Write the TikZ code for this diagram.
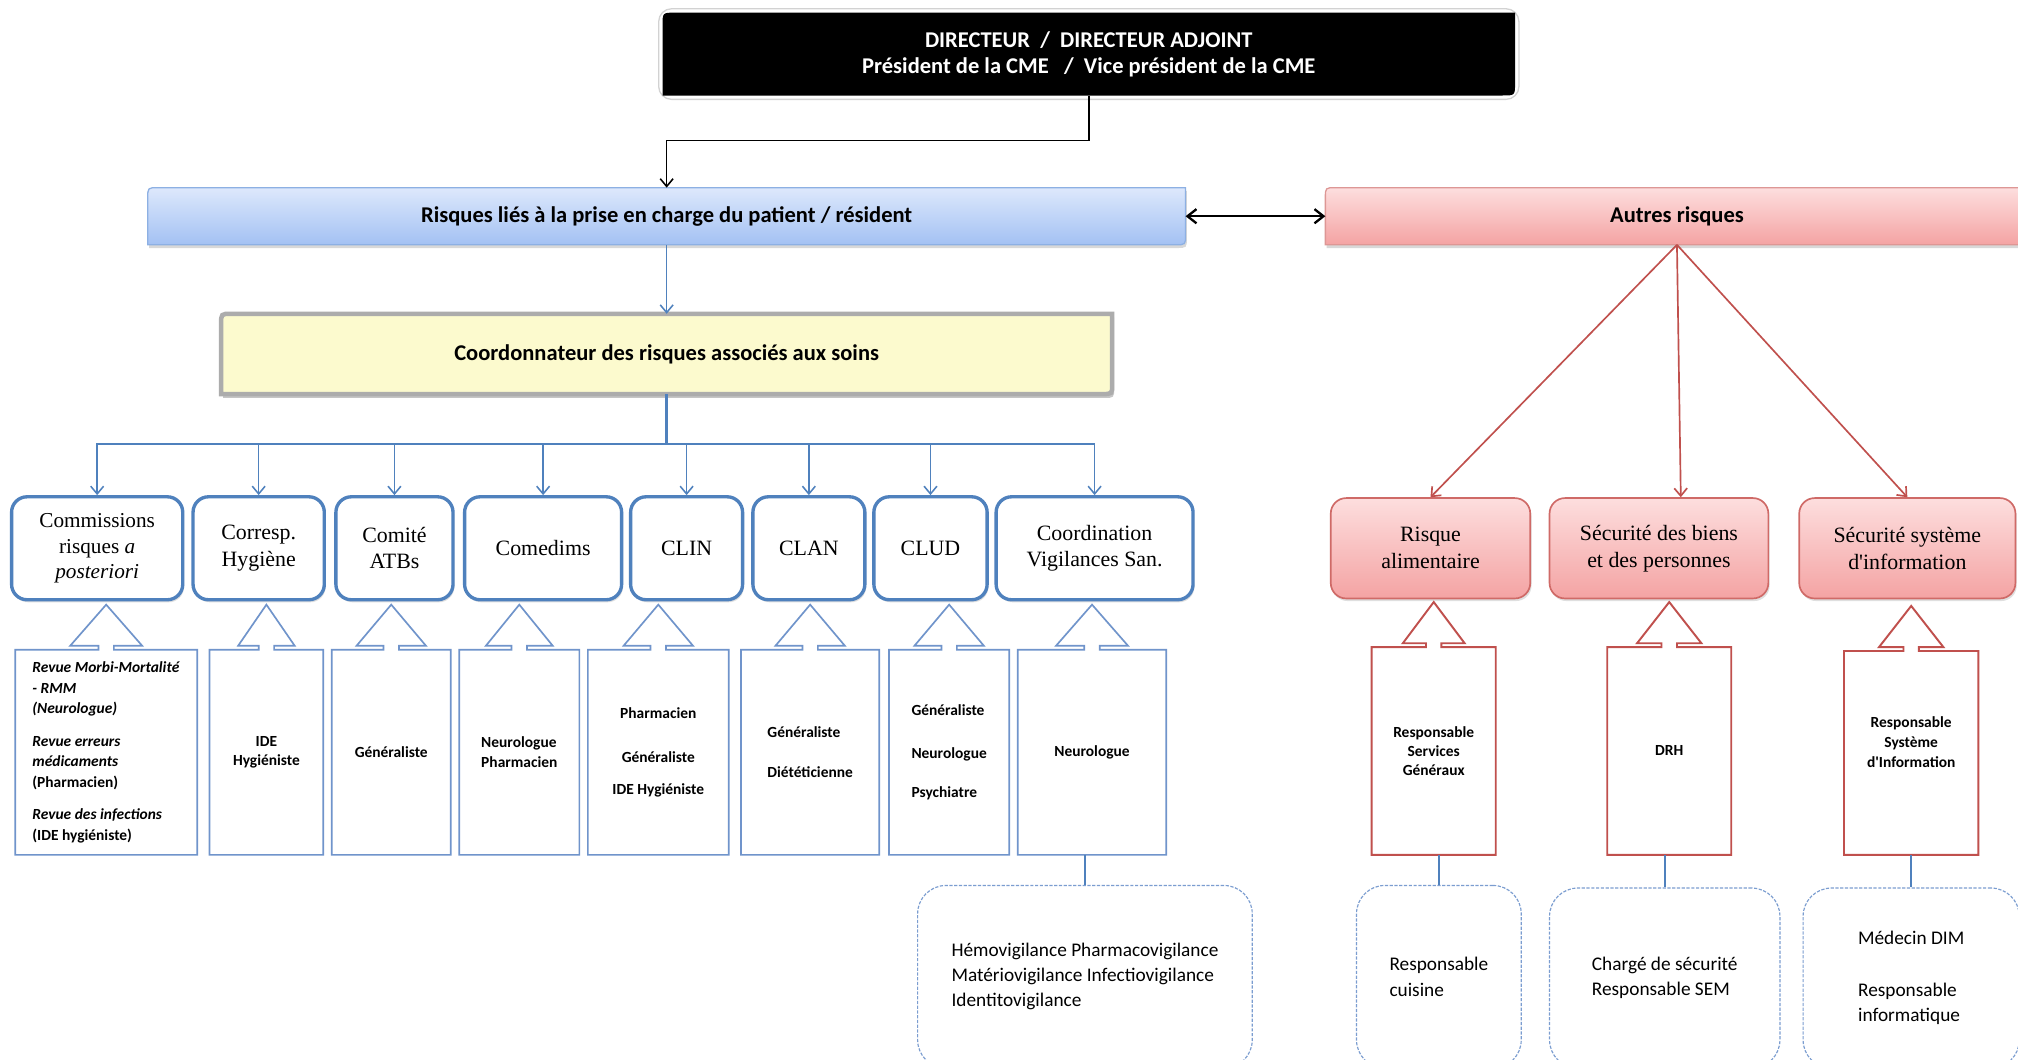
\documentclass[tikz,border=0pt]{standalone}
\usepackage{fontspec}
\setmainfont{Liberation Serif}
\newfontfamily\calfont{Carlito}
\usetikzlibrary{arrows.meta,calc,shadows,backgrounds}
\definecolor{obl}{HTML}{4F81BD}
\definecolor{thinbl}{HTML}{7094CB}
\definecolor{dashbl}{HTML}{7B9DD0}
\definecolor{ored}{HTML}{C0504D}
\definecolor{redbd}{HTML}{CF6A67}
\definecolor{bltop}{HTML}{DDE8FC}
\definecolor{blbot}{HTML}{A3C1F3}
\definecolor{bltopbd}{HTML}{8DB0E3}
\definecolor{rdtop}{HTML}{FDDEDE}
\definecolor{rdbot}{HTML}{F4A3A3}
\definecolor{ylw}{HTML}{FCFACE}
\newcommand\diagrect[3]{%
  \path[#3] (#1.south west) -- ($(#1.north west)+(0,#2)$) .. controls (#1.north west) .. ($(#1.north west)+(#2,0)$)
    -- (#1.north east) -- ($(#1.south east)+(0,-#2)$) .. controls (#1.south east) .. ($(#1.south east)+(-#2,0)$) -- cycle;}
\newcommand\callout[3]{%
  \draw[#2] (#1.north west) -- ($(#1.north)+(-6,0)$) -- ++(0,-3) -- ++({-#3+6},0) -- ++(#3,-32) -- ++(#3,32)
    -- ++({-#3+6},0) -- ++(0,3) -- (#1.north east) -- (#1.south east) -- (#1.south west) -- cycle;}
\begin{document}
\begin{tikzpicture}[x=1pt,y=-1pt,
  toptext/.style={inner sep=0, align=center, font=\calfont\bfseries\fontsize{17.5}{20}\selectfont},
  cmt/.style={draw=obl, line width=2.6pt, rounded corners=12pt, fill=white, inner sep=0, align=center,
    minimum height=80, font=\fontsize{17}{20.5}\selectfont,
    drop shadow={opacity=0.25, shadow xshift=1pt, shadow yshift=-2pt}},
  rbox/.style={draw=redbd, line width=1.3pt, rounded corners=12pt, top color=rdtop, bottom color=rdbot,
    inner sep=0, align=center, minimum height=78, font=\fontsize{17}{21}\selectfont,
    drop shadow={opacity=0.25, shadow xshift=1pt, shadow yshift=-2pt}},
  note/.style={inner sep=0, align=center, minimum height=159, font=\calfont\bfseries\fontsize{12}{15}\selectfont},
  rnote/.style={note, minimum height=161},
  dbox/.style={draw=dashbl, line width=0.9pt, dash pattern=on 2.5pt off 1.2pt, rounded corners=22pt,
    inner sep=0, align=left, font=\calfont\fontsize{15}{19.5}\selectfont},
  barb/.style={-{Straight Barb[length=6pt,width=10pt]}},
  blarrow/.style={barb, draw=obl, line width=1.2pt},
  redarrow/.style={barb, draw=ored, line width=1.3pt},
  blueout/.style={draw=thinbl, line width=1.3pt},
  redout/.style={draw=ored, line width=1.5pt},
  link/.style={draw=obl, line width=1.2pt}]
\useasboundingbox (0,0) rectangle (1568,823);

% top boxes
\node[toptext, text=white, minimum width=662, minimum height=64] (boss) at (846,42)
  {DIRECTEUR\ \ /\ \ DIRECTEUR ADJOINT\\Président de la CME\ \ \ /\ \ Vice président de la CME};
\node[toptext, minimum width=806, minimum height=44] (blue) at (518,168)
  {Risques liés à la prise en charge du patient / résident};
\node[toptext, minimum width=546, minimum height=44] (ar) at (1303,168) {Autres risques};
\node[toptext, minimum width=692, minimum height=62] (yel) at (518,275)
  {Coordonnateur des risques associés aux soins};

\begin{scope}[on background layer]
  \fill[white] (0,0) rectangle (1568,823);
  \draw[gray!35, line width=1pt, rounded corners=10pt] ($(boss.north west)+(-3,-3)$) rectangle ($(boss.south east)+(3,3)$);
  \diagrect{boss}{10}{fill=black}
  \diagrect{blue}{8}{top color=bltop, bottom color=blbot, draw=bltopbd, line width=1pt,
     drop shadow={opacity=0.3, shadow xshift=1pt, shadow yshift=-2.5pt}}
  \diagrect{ar}{8}{top color=rdtop, bottom color=rdbot, draw=redbd!70, line width=1pt,
     drop shadow={opacity=0.3, shadow xshift=1pt, shadow yshift=-2.5pt}}
  \diagrect{yel}{8}{fill=ylw, draw=gray!65, line width=3.5pt,
     drop shadow={opacity=0.45, shadow xshift=1.5pt, shadow yshift=-3pt}}
\end{scope}

% top connectors
\draw[barb, line width=1.2pt] (boss.south) -- ++(0,35) -| (blue.north);
\draw[{Straight Barb[length=7pt,width=11pt]}-{Straight Barb[length=7pt,width=11pt]}, line width=1.8pt] (blue.east) -- (ar.west);
\draw[blarrow] (blue.south) -- (yel.north);

% committees
\node[cmt, minimum width=133, font=\fontsize{16.5}{20}\selectfont] (c1) at (75.5,426) {Commissions\\risques \textit{a}\\\textit{posteriori}};
\node[cmt, minimum width=102] (c2) at (201,426) {Corresp.\\Hygiène};
\node[cmt, minimum width=91] (c3) at (306.5,426) {Comité\\ATBs};
\node[cmt, minimum width=122] (c4) at (422,426) {Comedims};
\node[cmt, minimum width=87] (c5) at (533.5,426) {CLIN};
\node[cmt, minimum width=87] (c6) at (628.5,426) {CLAN};
\node[cmt, minimum width=88] (c7) at (723,426) {CLUD};
\node[cmt, minimum width=153] (c8) at (850.5,426) {Coordination\\Vigilances San.};

\coordinate (bus) at (518,345);
\draw[draw=obl, line width=2.8pt] (yel.south) -- (bus);
\foreach \c in {c1,c2,c3,c4,c5,c6,c7,c8} \draw[blarrow] (bus) -| (\c.north);

% member callouts
\node[note, minimum width=141, align=left, font=\calfont\bfseries\fontsize{12}{16}\selectfont] (n1) at (82.5,584.5)
  {\textit{Revue Morbi-Mortalité}\\\textit{- RMM}\\\textit{(Neurologue)}\\[9pt]\textit{Revue erreurs}\\\textit{médicaments}\\(Pharmacien)\\[9pt]\textit{Revue des infections}\\(IDE hygiéniste)};
\node[note, minimum width=88] (n2) at (207,584.5) {IDE\\Hygiéniste};
\node[note, minimum width=92] (n3) at (304,584.5) {Généraliste};
\node[note, minimum width=93, align=left] (n4) at (403.5,584.5) {Neurologue\\Pharmacien};
\node[note, minimum width=109] (n5) at (511.5,584.5) {Pharmacien\\[19pt]Généraliste\\[10pt]IDE Hygiéniste};
\node[note, minimum width=107, align=left] (n6) at (629.5,584.5) {Généraliste\\[16pt]Diététicienne};
\node[note, minimum width=93, align=left] (n7) at (737.5,584.5) {Généraliste\\[18pt]Neurologue\\[15pt]Psychiatre};
\node[note, minimum width=115] (n8) at (848.5,584.5) {Neurologue};
\callout{n1}{blueout}{28}
\callout{n2}{blueout}{22}
\callout{n3}{blueout}{27}
\callout{n4}{blueout}{26}
\callout{n5}{blueout}{27}
\callout{n6}{blueout}{27}
\callout{n7}{blueout}{27}
\callout{n8}{blueout}{28}

\node[dbox, minimum width=260, minimum height=142] (v) at (843,759)
  {Hémovigilance Pharmacovigilance\\Matériovigilance Infectiovigilance\\Identitovigilance};
\draw[link] (n8.south -| v.north) -- (v.north);

% right side
\node[rbox, minimum width=155] (r1) at (1111.5,426) {Risque\\alimentaire};
\node[rbox, minimum width=170] (r2) at (1289,426) {Sécurité des biens\\et des personnes};
\node[rbox, minimum width=168] (r3) at (1482,426) {Sécurité système\\d\textquotesingle information};
\coordinate (r2in) at ($(r2.north)+(17,0)$);
\draw[redarrow] (ar.south) -- (r1.north);
\draw[redarrow] (ar.south) -- (r2in);
\draw[redarrow] (ar.south) -- (r3.north);

\node[rnote, minimum width=96] (q1) at (1114,583.5) {Responsable\\Services\\Généraux};
\node[rnote, minimum width=96] (q2) at (1297,583.5) {DRH};
\node[rnote, minimum width=104, minimum height=158] (q3) at (1485,585) {};
\node[inner sep=0, align=center, font=\calfont\bfseries\fontsize{12}{15.5}\selectfont] (q3t) at ($(q3)+(0,-8.5)$)
  {Responsable\\Système\\d\textquotesingle Information};
\callout{q1}{redout}{24}
\callout{q2}{redout}{25}
\callout{q3}{redout}{25}

\node[dbox, minimum width=128, minimum height=142] (d1) at (1118,759) {Responsable\\cuisine};
\node[dbox, minimum width=179, minimum height=140] (d2) at (1293.5,760) {Chargé de sécurité\\Responsable SEM};
\node[dbox, minimum width=168, minimum height=140] (d3) at (1485,760) {Médecin DIM\\[20.5pt]Responsable\\informatique};
\draw[link] (q1.south -| d1.north) -- (d1.north);
\draw[link] (q2.south -| d2.north) -- (d2.north);
\draw[link] (q3.south -| d3.north) -- (d3.north);
\end{tikzpicture}
\end{document}
